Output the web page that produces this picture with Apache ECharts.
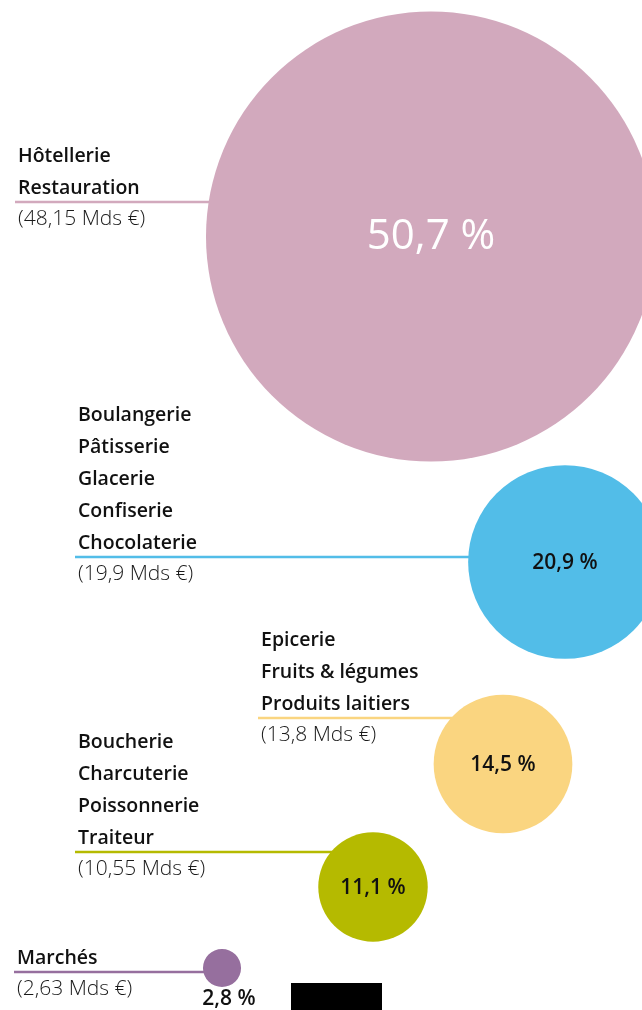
<!DOCTYPE html>
<html>
<head>
<meta charset="utf-8">
<script src="https://cdn.jsdelivr.net/npm/echarts@6/dist/echarts.min.js"></script>
<style>
  html, body { margin: 0; padding: 0; background: #fff; }
  #main { width: 642px; height: 1010px; }
</style>
</head>
<body>
<div id="main"></div>
<script>
// données : parts du CA par secteur
var sectors = [
	['Hôtellerie', 'Restauration'],
	['Boulangerie', 'Pâtisserie', 'Glacerie', 'Confiserie', 'Chocolaterie'],
	['Epicerie', 'Fruits & légumes', 'Produits laitiers'],
	['Boucherie', 'Charcuterie', 'Poissonnerie', 'Traiteur'],
	['Marchés']
];
var amounts = [48.15, 19.9, 13.8, 10.55, 2.63]; // Mds €
var shares = [50.7, 20.9, 14.5, 11.1, 2.8];     // %

// mise en page (coordonnées sur les axes cachés)
var centreX = [431, 565, 503, 373, 222];
var centreY = [236.5, 562, 764, 887, 968];
var labelX = [18, 78, 261, 78, 17];
var lineY = [202, 557, 718, 852, 972];
var colors = ['#D2A9BD', '#52BDE8', '#FAD580', '#B5BA00', '#966F9E'];

var FONT = '"Open Sans", "Noto Sans", sans-serif';

function fr(n) {
	return String(n).replace('.', ',');
}

function radius(p) {
	return 7 + 4.3 * p;
}

function renderItem(params, api) {
	var i = params.dataIndex;
	var c = api.coord([api.value(0), api.value(1)]);
	var lx = api.coord([api.value(2), api.value(3)]);
	var r = radius(shares[i]);
	var children = [];
	// trait
	children.push({
		type: 'line',
		shape: { x1: lx[0] - 3, y1: lx[1], x2: c[0], y2: lx[1] },
		style: { stroke: colors[i], lineWidth: 2.5 }
	});
	// bulle
	children.push({
		type: 'circle',
		shape: { cx: c[0], cy: c[1], r: r },
		style: { fill: colors[i] }
	});
	// libellés
	var names = sectors[i];
	for (var k = 0; k < names.length; k++) {
		children.push({
			type: 'text',
			style: {
				text: names[k],
				x: lx[0],
				y: lx[1] - 14 - 32 * (names.length - 1 - k),
				fill: '#111',
				font: '600 19.5px ' + FONT,
				textAlign: 'left',
				textVerticalAlign: 'middle'
			}
		});
	}
	children.push({
		type: 'text',
		style: {
			text: '(' + fr(amounts[i]) + ' Mds €)',
			x: lx[0],
			y: lx[1] + 17,
			fill: '#1a1a1a',
			font: '300 21px ' + FONT,
			textAlign: 'left',
			textVerticalAlign: 'middle'
		}
	});
	// pourcentage
	var big = i === 0;
	var small = r < 30;
	children.push({
		type: 'text',
		style: {
			text: fr(shares[i]) + ' %',
			x: c[0] + (small ? 7 : 0),
			y: small ? c[1] + r + 12 : c[1] + 1,
			fill: big ? '#fff' : '#111',
			font: big ? '400 42px ' + FONT : '600 21px ' + FONT,
			textAlign: 'center',
			textVerticalAlign: 'middle'
		}
	});
	return { type: 'group', children: children };
}

var data = [];
for (var i = 0; i < shares.length; i++) {
	data.push([centreX[i], centreY[i], labelX[i], lineY[i]]);
}

var myChart = echarts.init(document.getElementById('main'));
var option = {
	backgroundColor: '#fff',
	animation: false,
	grid: { left: 0, right: 0, top: 0, bottom: 0 },
	xAxis: { type: 'value', min: 0, max: 642, show: false },
	yAxis: { type: 'value', min: 0, max: 1010, inverse: true, show: false },
	graphic: [
		{ type: 'rect', shape: { x: 291, y: 983, width: 91, height: 27 }, style: { fill: '#000' } }
	],
	series: [
		{
			type: 'custom',
			renderItem: renderItem,
			clip: false,
			data: data
		}
	]
};
myChart.setOption(option);
</script>
</body>
</html>
